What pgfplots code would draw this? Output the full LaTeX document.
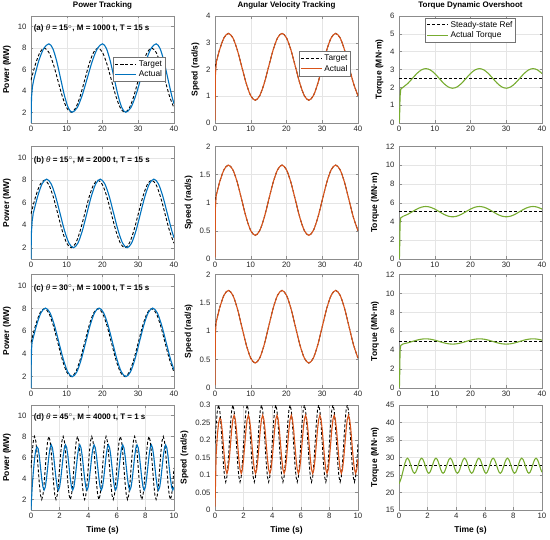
\documentclass[border=0pt]{standalone}
\usepackage{fontspec}
\setmainfont{Liberation Sans}
\usepackage{pgfplots}
\usepackage{pgfplotstable}
\pgfplotsset{compat=1.18}
\definecolor{mblue}{HTML}{0072BD}
\definecolor{morange}{HTML}{D95319}
\definecolor{mgreen}{HTML}{77AC30}

\pgfplotstableread{
t pT sa sb sc ta tb tc
0 5 2.1 1.045 1.08 1.95 4.5 4.64
1.25 6.5 2.725 1.358 1.4 2.024 4.574 4.678
2.5 7.598 3.183 1.586 1.634 2.225 4.775 4.78
3.75 8 3.35 1.67 1.72 2.5 5.05 4.92
5 7.598 3.183 1.586 1.634 2.775 5.325 5.06
6.25 6.5 2.725 1.358 1.4 2.976 5.526 5.162
7.5 5 2.1 1.045 1.08 3.05 5.6 5.2
8.75 3.5 1.475 0.733 0.76 2.976 5.526 5.162
10 2.402 1.018 0.504 0.526 2.775 5.325 5.06
11.25 2 0.85 0.42 0.44 2.5 5.05 4.92
12.5 2.402 1.018 0.504 0.526 2.225 4.775 4.78
13.75 3.5 1.475 0.733 0.76 2.024 4.574 4.678
15 5 2.1 1.045 1.08 1.95 4.5 4.64
16.25 6.5 2.725 1.358 1.4 2.024 4.574 4.678
17.5 7.598 3.183 1.586 1.634 2.225 4.775 4.78
18.75 8 3.35 1.67 1.72 2.5 5.05 4.92
20 7.598 3.183 1.586 1.634 2.775 5.325 5.06
21.25 6.5 2.725 1.358 1.4 2.976 5.526 5.162
22.5 5 2.1 1.045 1.08 3.05 5.6 5.2
23.75 3.5 1.475 0.733 0.76 2.976 5.526 5.162
25 2.402 1.018 0.504 0.526 2.775 5.325 5.06
26.25 2 0.85 0.42 0.44 2.5 5.05 4.92
27.5 2.402 1.018 0.504 0.526 2.225 4.775 4.78
28.75 3.5 1.475 0.733 0.76 2.024 4.574 4.678
30 5 2.1 1.045 1.08 1.95 4.5 4.64
31.25 6.5 2.725 1.358 1.4 2.024 4.574 4.678
32.5 7.598 3.183 1.586 1.634 2.225 4.775 4.78
33.75 8 3.35 1.67 1.72 2.5 5.05 4.92
35 7.598 3.183 1.586 1.634 2.775 5.325 5.06
36.25 6.5 2.725 1.358 1.4 2.976 5.526 5.162
37.5 5 2.1 1.045 1.08 3.05 5.6 5.2
38.75 3.5 1.475 0.733 0.76 2.976 5.526 5.162
40 2.402 1.018 0.504 0.526 2.775 5.325 5.06
}\tabA

\pgfplotstableread{
t pT pA sT sA tA
0 5 1.0 0.19 0.01 22.5
0.0833 6.5 3.2 0.245 0.16 23.3
0.1667 7.598 4.7 0.285 0.215 24.3
0.25 8 5.9 0.3 0.248 25.6
0.3333 7.598 6.7 0.285 0.262 27.0
0.4167 6.5 7.0 0.245 0.258 28.4
0.5 5 6.85 0.19 0.229 29.4
0.5833 3.5 6.13 0.135 0.1875 29.8
0.6667 2.402 5.05 0.095 0.146 29.51
0.75 2 3.98 0.08 0.116 28.73
0.8333 2.402 3.19 0.095 0.1045 27.65
0.9167 3.5 2.9 0.135 0.116 26.58
1 5 3.19 0.19 0.146 25.79
1.0833 6.5 3.98 0.245 0.1875 25.5
1.1667 7.598 5.05 0.285 0.229 25.79
1.25 8 6.13 0.3 0.259 26.58
1.3333 7.598 6.91 0.285 0.2705 27.65
1.4167 6.5 7.2 0.245 0.259 28.73
1.5 5 6.91 0.19 0.229 29.51
1.5833 3.5 6.13 0.135 0.1875 29.8
1.6667 2.402 5.05 0.095 0.146 29.51
1.75 2 3.98 0.08 0.116 28.73
1.8333 2.402 3.19 0.095 0.1045 27.65
1.9167 3.5 2.9 0.135 0.116 26.58
2 5 3.19 0.19 0.146 25.79
2.0833 6.5 3.98 0.245 0.1875 25.5
2.1667 7.598 5.05 0.285 0.229 25.79
2.25 8 6.13 0.3 0.259 26.58
2.3333 7.598 6.91 0.285 0.2705 27.65
2.4167 6.5 7.2 0.245 0.259 28.73
2.5 5 6.91 0.19 0.229 29.51
2.5833 3.5 6.13 0.135 0.1875 29.8
2.6667 2.402 5.05 0.095 0.146 29.51
2.75 2 3.98 0.08 0.116 28.73
2.8333 2.402 3.19 0.095 0.1045 27.65
2.9167 3.5 2.9 0.135 0.116 26.58
3 5 3.19 0.19 0.146 25.79
3.0833 6.5 3.98 0.245 0.1875 25.5
3.1667 7.598 5.05 0.285 0.229 25.79
3.25 8 6.13 0.3 0.259 26.58
3.3333 7.598 6.91 0.285 0.2705 27.65
3.4167 6.5 7.2 0.245 0.259 28.73
3.5 5 6.91 0.19 0.229 29.51
3.5833 3.5 6.13 0.135 0.1875 29.8
3.6667 2.402 5.05 0.095 0.146 29.51
3.75 2 3.98 0.08 0.116 28.73
3.8333 2.402 3.19 0.095 0.1045 27.65
3.9167 3.5 2.9 0.135 0.116 26.58
4 5 3.19 0.19 0.146 25.79
4.0833 6.5 3.98 0.245 0.1875 25.5
4.1667 7.598 5.05 0.285 0.229 25.79
4.25 8 6.13 0.3 0.259 26.58
4.3333 7.598 6.91 0.285 0.2705 27.65
4.4167 6.5 7.2 0.245 0.259 28.73
4.5 5 6.91 0.19 0.229 29.51
4.5833 3.5 6.13 0.135 0.1875 29.8
4.6667 2.402 5.05 0.095 0.146 29.51
4.75 2 3.98 0.08 0.116 28.73
4.8333 2.402 3.19 0.095 0.1045 27.65
4.9167 3.5 2.9 0.135 0.116 26.58
5 5 3.19 0.19 0.146 25.79
5.0833 6.5 3.98 0.245 0.1875 25.5
5.1667 7.598 5.05 0.285 0.229 25.79
5.25 8 6.13 0.3 0.259 26.58
5.3333 7.598 6.91 0.285 0.2705 27.65
5.4167 6.5 7.2 0.245 0.259 28.73
5.5 5 6.91 0.19 0.229 29.51
5.5833 3.5 6.13 0.135 0.1875 29.8
5.6667 2.402 5.05 0.095 0.146 29.51
5.75 2 3.98 0.08 0.116 28.73
5.8333 2.402 3.19 0.095 0.1045 27.65
5.9167 3.5 2.9 0.135 0.116 26.58
6 5 3.19 0.19 0.146 25.79
6.0833 6.5 3.98 0.245 0.1875 25.5
6.1667 7.598 5.05 0.285 0.229 25.79
6.25 8 6.13 0.3 0.259 26.58
6.3333 7.598 6.91 0.285 0.2705 27.65
6.4167 6.5 7.2 0.245 0.259 28.73
6.5 5 6.91 0.19 0.229 29.51
6.5833 3.5 6.13 0.135 0.1875 29.8
6.6667 2.402 5.05 0.095 0.146 29.51
6.75 2 3.98 0.08 0.116 28.73
6.8333 2.402 3.19 0.095 0.1045 27.65
6.9167 3.5 2.9 0.135 0.116 26.58
7 5 3.19 0.19 0.146 25.79
7.0833 6.5 3.98 0.245 0.1875 25.5
7.1667 7.598 5.05 0.285 0.229 25.79
7.25 8 6.13 0.3 0.259 26.58
7.3333 7.598 6.91 0.285 0.2705 27.65
7.4167 6.5 7.2 0.245 0.259 28.73
7.5 5 6.91 0.19 0.229 29.51
7.5833 3.5 6.13 0.135 0.1875 29.8
7.6667 2.402 5.05 0.095 0.146 29.51
7.75 2 3.98 0.08 0.116 28.73
7.8333 2.402 3.19 0.095 0.1045 27.65
7.9167 3.5 2.9 0.135 0.116 26.58
8 5 3.19 0.19 0.146 25.79
8.0833 6.5 3.98 0.245 0.1875 25.5
8.1667 7.598 5.05 0.285 0.229 25.79
8.25 8 6.13 0.3 0.259 26.58
8.3333 7.598 6.91 0.285 0.2705 27.65
8.4167 6.5 7.2 0.245 0.259 28.73
8.5 5 6.91 0.19 0.229 29.51
8.5833 3.5 6.13 0.135 0.1875 29.8
8.6667 2.402 5.05 0.095 0.146 29.51
8.75 2 3.98 0.08 0.116 28.73
8.8333 2.402 3.19 0.095 0.1045 27.65
8.9167 3.5 2.9 0.135 0.116 26.58
9 5 3.19 0.19 0.146 25.79
9.0833 6.5 3.98 0.245 0.1875 25.5
9.1667 7.598 5.05 0.285 0.229 25.79
9.25 8 6.13 0.3 0.259 26.58
9.3333 7.598 6.91 0.285 0.2705 27.65
9.4167 6.5 7.2 0.245 0.259 28.73
9.5 5 6.91 0.19 0.229 29.51
9.5833 3.5 6.13 0.135 0.1875 29.8
9.6667 2.402 5.05 0.095 0.146 29.51
9.75 2 3.98 0.08 0.116 28.73
9.8333 2.402 3.19 0.095 0.1045 27.65
9.9167 3.5 2.9 0.135 0.116 26.58
10 5 3.19 0.19 0.146 25.79
}\tabD

\pgfplotsset{
  legend image code/.code={\draw[mark repeat=2,mark phase=2,#1] plot coordinates {(0pt,0pt) (10.5pt,0pt) (21pt,0pt)};},
  base/.style={
    scale only axis, width=143pt,
    axis line style={black!45, line width=0.5pt},
    every tick/.style={black!45, line width=0.4pt},
    tick align=inside, major tick length=2.5pt,
    grid=major, grid style={black!10, line width=0.4pt},
    tick label style={font=\fontsize{7.8}{9}\selectfont, text=black!85},
    /pgf/number format/assume math mode=true,
    label style={font=\bfseries\fontsize{8.5}{10}\selectfont},
    title style={font=\bfseries\fontsize{8}{9.5}\selectfont, at={(0.5,1)}, anchor=south, yshift=0pt, inner sep=1pt},
    yticklabel style={xshift=-1pt},
    scaled ticks=false,
    legend style={font=\fontsize{8.3}{10}\selectfont, draw=black!55, inner sep=1.2pt, row sep=-1pt},
    legend cell align=left,
  },
  rowA/.style={xmin=0,xmax=40,xtick={0,10,20,30,40}},
  rowD/.style={xmin=0,xmax=10,xtick={0,2,4,6,8,10}},
  pw/.style={ymin=1,ymax=11,ytick={2,4,6,8,10},ylabel={Power (MW)}},
  sp/.style={ylabel={Speed (rad/s)}},
  tq/.style={ylabel={Torque (MN·m)}},
  tgt/.style={black, dash pattern=on 3pt off 2pt, line width=0.9pt},
  pa/.style={mblue, line width=1.1pt},
  sa/.style={morange, line width=1.1pt},
  ga/.style={mgreen, line width=1.1pt},
}
\newcommand{\ann}[1]{\node[anchor=west, font=\bfseries\fontsize{8}{9.5}\selectfont, inner sep=0pt] at (rel axis cs:0.018,0.88) {#1};}

\begin{document}
\begin{tikzpicture}
\useasboundingbox (0,0) rectangle (550pt,-540pt);

% ================= ROW 1 =================
\begin{axis}[base, rowA, pw, height=107pt, at={(31pt,-123pt)}, anchor=south west,
  title={Power Tracking},
  legend style={at={(0.94,0.385)}, anchor=south east}]
\addplot[tgt, smooth] table[x=t,y=pT]{\tabA};
\addlegendentry{Target}
\addplot[pa, forget plot] coordinates {(0,1) (0.15,3.4) (0.4,4.4) (0.75,5.0)};
\addplot[pa, smooth] coordinates {(0.75,5.0) (2.167,6.8) (3.583,7.971) (5,8.4) (6.083,7.971) (7.167,6.8) (8.25,5.2) (9.333,3.6) (10.417,2.429) (11.5,2.0) (12.917,2.429) (14.333,3.6) (15.75,5.2) (17.167,6.8) (18.583,7.971) (20,8.4) (21.083,7.971) (22.167,6.8) (23.25,5.2) (24.333,3.6) (25.417,2.429) (26.5,2.0) (27.917,2.429) (29.333,3.6) (30.75,5.2) (32.167,6.8) (33.583,7.971) (35,8.4) (36.083,7.971) (37.167,6.8) (38.25,5.2) (39.333,3.6) (40,2.8)};
\addlegendentry{Actual}
\ann{(a) \textnormal{\itshape θ} = 15$^{\circ}$, M = 1000 t, T = 15 s}
\end{axis}

\begin{axis}[base, rowA, sp, height=107pt, at={(215pt,-123pt)}, anchor=south west,
  title={Angular Velocity Tracking}, ymin=0, ymax=4, ytick={0,1,2,3,4},
  legend style={at={(0.95,0.44)}, anchor=south east}]
\addplot[tgt, smooth] table[x=t,y=sa]{\tabA};
\addlegendentry{Target}
\addlegendimage{sa}
\addlegendentry{Actual}
\addplot[sa, forget plot] coordinates {(0,0.1) (0.12,1.8) (0.4,2.3) (1.25,2.725)};
\addplot[sa, smooth, forget plot, skip coords between index={0}{1}] table[x=t,y=sa]{\tabA};
\end{axis}

\begin{axis}[base, rowA, tq, height=107pt, at={(399pt,-123pt)}, anchor=south west,
  title={Torque Dynamic Overshoot}, ymin=0, ymax=6, ytick={0,1,2,3,4,5,6},
  legend style={at={(0.5,0.985)}, anchor=north}]
\addplot[tgt] coordinates {(0,2.5) (40,2.5)};
\addlegendentry{Steady-state Ref}
\addlegendimage{ga}
\addlegendentry{Actual Torque}
\addplot[ga, forget plot] coordinates {(0,0) (0.15,0.2) (0.3,1.5) (0.5,1.9) (1.25,2.024)};
\addplot[ga, smooth, forget plot, skip coords between index={0}{1}] table[x=t,y=ta]{\tabA};
\end{axis}

% ================= ROW 2 =================
\begin{axis}[base, rowA, pw, height=112.5pt, at={(31pt,-259pt)}, anchor=south west]
\addplot[tgt, smooth] table[x=t,y=pT]{\tabA};
\addplot[pa] coordinates {(0,1) (0.1,3.2) (0.3,4.3) (0.625,5.05)};
\addplot[pa, smooth] coordinates {(0.625,5.05) (1.875,6.575) (3.125,7.691) (4.375,8.1) (5.625,7.691) (6.875,6.575) (8.125,5.05) (9.375,3.525) (10.625,2.409) (11.875,2.0) (13.125,2.409) (14.375,3.525) (15.625,5.05) (16.875,6.575) (18.125,7.691) (19.375,8.1) (20.625,7.691) (21.875,6.575) (23.125,5.05) (24.375,3.525) (25.625,2.409) (26.875,2.0) (28.125,2.409) (29.375,3.525) (30.625,5.05) (31.875,6.575) (33.125,7.691) (34.375,8.1) (35.625,7.691) (36.875,6.575) (38.125,5.05) (39.375,3.525) (40,2.89)};
\ann{(b) \textnormal{\itshape θ} = 15$^{\circ}$, M = 2000 t, T = 15 s}
\end{axis}

\begin{axis}[base, rowA, sp, height=112.5pt, at={(215pt,-259pt)}, anchor=south west,
  ymin=0, ymax=2, ytick={0,0.5,1,1.5,2}]
\addplot[tgt, smooth] table[x=t,y=sb]{\tabA};
\addplot[sa] coordinates {(0,0.03) (0.1,0.9) (0.35,1.13) (1.25,1.358)};
\addplot[sa, smooth, skip coords between index={0}{1}] table[x=t,y=sb]{\tabA};
\end{axis}

\begin{axis}[base, rowA, tq, height=112.5pt, at={(399pt,-259pt)}, anchor=south west,
  ymin=0, ymax=12, ytick={0,2,4,6,8,10,12}]
\addplot[tgt] coordinates {(0,5.05) (40,5.05)};
\addplot[ga] coordinates {(0,0) (0.15,0.3) (0.3,3.8) (0.5,4.4) (1.25,4.574)};
\addplot[ga, smooth, skip coords between index={0}{1}] table[x=t,y=tb]{\tabA};
\end{axis}

% ================= ROW 3 =================
\begin{axis}[base, rowA, pw, height=113.5pt, at={(31pt,-388pt)}, anchor=south west]
\addplot[tgt, smooth] table[x=t,y=pT]{\tabA};
\addplot[pa] coordinates {(0,1) (0.06,3.2) (0.15,4.4) (0.3,5.02)};
\addplot[pa, smooth] coordinates {(0.3,5.02) (1.55,6.53) (2.8,7.635) (4.05,8.04) (5.3,7.635) (6.55,6.53) (7.8,5.02) (9.05,3.51) (10.3,2.405) (11.55,2.0) (12.8,2.405) (14.05,3.51) (15.3,5.02) (16.55,6.53) (17.8,7.635) (19.05,8.04) (20.3,7.635) (21.55,6.53) (22.8,5.02) (24.05,3.51) (25.3,2.405) (26.55,2.0) (27.8,2.405) (29.05,3.51) (30.3,5.02) (31.55,6.53) (32.8,7.635) (34.05,8.04) (35.3,7.635) (36.55,6.53) (37.8,5.02) (39.05,3.51) (40,2.61)};
\ann{(c) \textnormal{\itshape θ} = 30$^{\circ}$, M = 1000 t, T = 15 s}
\end{axis}

\begin{axis}[base, rowA, sp, height=113.5pt, at={(215pt,-388pt)}, anchor=south west,
  ymin=0, ymax=2, ytick={0,0.5,1,1.5,2}]
\addplot[tgt, smooth] table[x=t,y=sc]{\tabA};
\addplot[sa] coordinates {(0,0.05) (0.1,0.95) (0.35,1.17) (1.25,1.4)};
\addplot[sa, smooth, skip coords between index={0}{1}] table[x=t,y=sc]{\tabA};
\end{axis}

\begin{axis}[base, rowA, tq, height=113.5pt, at={(399pt,-388pt)}, anchor=south west,
  ymin=0, ymax=12, ytick={0,2,4,6,8,10,12}]
\addplot[tgt] coordinates {(0,4.92) (40,4.92)};
\addplot[ga] coordinates {(0,0) (0.15,0.3) (0.3,4.0) (0.5,4.5) (1.25,4.678)};
\addplot[ga, smooth, skip coords between index={0}{1}] table[x=t,y=tc]{\tabA};
\end{axis}

% ================= ROW 4 =================
\begin{axis}[base, rowD, pw, height=105pt, at={(31pt,-510pt)}, anchor=south west,
  xlabel={Time (s)}]
\addplot[tgt] table[x=t,y=pT]{\tabD};
\addplot[pa] table[x=t,y=pA]{\tabD};
\ann{(d) \textnormal{\itshape θ} = 45$^{\circ}$, M = 4000 t, T = 1 s}
\end{axis}

\begin{axis}[base, rowD, sp, height=105pt, at={(215pt,-510pt)}, anchor=south west,
  xlabel={Time (s)}, ymin=0, ymax=0.3, ytick={0,0.05,0.1,0.15,0.2,0.25,0.3},
  yticklabel style={/pgf/number format/fixed, /pgf/number format/precision=2}]
\addplot[tgt] table[x=t,y=sT]{\tabD};
\addplot[sa] table[x=t,y=sA]{\tabD};
\end{axis}

\begin{axis}[base, rowD, tq, height=105pt, at={(399pt,-510pt)}, anchor=south west,
  xlabel={Time (s)}, ymin=15, ymax=45, ytick={15,20,25,30,35,40,45}]
\addplot[tgt] coordinates {(0,27.7) (10,27.7)};
\addplot[ga] table[x=t,y=tA]{\tabD};
\end{axis}
\end{tikzpicture}
\end{document}
